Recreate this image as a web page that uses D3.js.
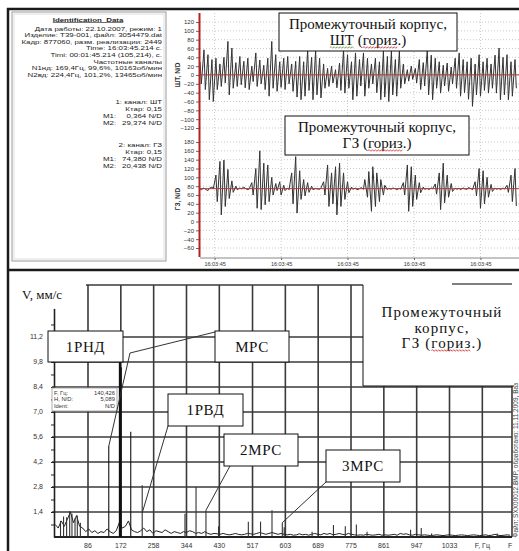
<!DOCTYPE html>
<html>
<head>
<meta charset="utf-8">
<script src="https://cdn.jsdelivr.net/npm/d3@7"></script>
<style>
  body { margin: 0; background: #fff; }
  svg { display: block; }
</style>
</head>
<body>
<div id="chart"></div>
<script>
// ---- data ----
const infoTitle = "Identification_Data";
const infoLines = [
  "Дата работы: 22.10.2007, режим: 1",
  "Изделие: Т39-001, файл: 3054479.dat",
  "Кадр: 877060, разм. реализации: 2449",
  "Time: 16:03:45.214 с.",
  "Timi: 00:01:45.214 (105,214), с.",
  "Частотные каналы",
  "N1нд: 169,4Гц, 99,6%, 10163об/мин",
  "N2вд: 224,4Гц, 101,2%, 13465об/мин"
];
const channelTitles = ["1: канал: ШТ", "2: канал: ГЗ"];
const channelKtar = ["0,15", "0,15"];
const channelM1 = ["0,364", "74,380"];
const channelM2 = ["29,374", "20,438"];

// time signal, one value every 1.5 ms
const sampleMs = 1.5;
const startTime = new Date(2007, 9, 22, 16, 3, 45, 39);
const timeTickMs = [50, 100, 150, 200, 250];

const shtValues = [
  30,-20, 57,-33, 46,-56, 35,-60, 38,-33, 25,-26, 40,-18, 76,-45, 61,-30, 28,-26,
  42,-22, 31,-29, 38,-33, 20,-15, 50,-26, 34,-20, 22,-33, 38,-48, 76,-30, 46,-37,
  30,-28, 38,-33, 42,-20, 25,-37, 31,-50, 42,-56, 30,-48, 57,-35, 40,-56, 57,-45,
  38,-52, 25,-30, 15,-26, 20,-18, 12,-29, 27,-35, 57,-41, 46,-30, 30,-56, 50,-48,
  35,-25, 50,-48, 38,-30, 25,-20, 38,-40, 30,-56, 54,-50, 42,-60, 54,-45, 35,-48,
  54,-30, 25,-20, 12,-14, 20,-10, 15,-18, 35,-33, 28,-25, 57,-45, 45,-56, 38,-30,
  30,-41, 22,-25, 27,-37, 18,-20, 38,-30, 50,-48, 35,-40, 30,-55, 38,-71, 25,-45,
  46,-48, 30,-35, 38,-41, 25,-30, 45,-41, 61,-56, 40,-45, 46,-56, 30,-48, 35,-30
];
const gzValues = [
  74, 72, 76, 73, 70, 75, 78, 74, 105, 45, 136, 15, 139, 34, 118, 52, 92, 66, 80, 72,
  76, 74, 78, 75, 72, 74, 88, 60, 120, 30, 160, 27, 132, 38, 128, 45, 100, 60, 86, 70,
  90, 60, 82, 70, 76, 72, 110, 40, 147, 19, 115, 50, 95, 58, 88, 66, 80, 72, 75, 74,
  73, 76, 90, 60, 128, 34, 110, 40, 124, 15, 132, 34, 110, 50, 90, 65, 78, 73, 76, 72,
  74, 77, 73, 95, 55, 113, 23, 124, 34, 110, 45, 95, 60, 82, 72, 75, 73, 76, 74, 72,
  75, 73, 88, 60, 128, 23, 124, 34, 105, 50, 88, 65, 78, 73, 75, 72, 76, 74, 85, 62,
  110, 27, 132, 42, 105, 55, 86, 68, 76, 73, 75, 72, 76, 74, 73, 77, 74, 72, 90, 58,
  120, 30, 115, 40, 100, 55, 84, 68, 76, 73, 75, 72, 76, 73, 82, 66, 105, 45, 120, 35
];
const shtTicks = [120, 100, 80, 60, 40, 20, 0, -20, -40, -60, -80, -100, -120];
const gzTicks = [180, 160, 140, 120, 100, 80, 60, 40, 20, 0, -20, -40, -60];
const shtMean = 0.364;
const gzMean = 74.38;

// spectrum
const floorStepHz = 8;
const spectrumFloor = [
  0.7, 0.5, 0.9, 0.6, 1.0, 1.4, 0.8, 1.2, 0.6, 0.5,
  0.3, 0.45, 0.25, 0.35, 0.2, 0.3, 0.25, 0.45, 0.3, 0.2,
  0.35, 0.8, 0.5, 0.6, 0.9, 0.4, 0.3, 0.25, 0.35, 0.5,
  0.3, 0.4, 0.2, 0.35, 0.3, 0.25, 0.4, 0.3, 0.2, 0.3,
  0.25, 0.2, 0.3, 0.25, 0.35, 0.3, 0.2, 0.25, 0.2, 0.3,
  0.2, 0.15, 0.2, 0.18, 0.15, 0.2, 0.15, 0.12, 0.15, 0.2,
  0.15, 0.12, 0.15, 0.2, 0.18, 0.15, 0.2, 0.25, 0.2, 0.15,
  0.2, 0.25, 0.2, 0.15, 0.2, 0.15, 0.12, 0.15, 0.1, 0.12,
  0.18, 0.12, 0.15, 0.1, 0.15, 0.2, 0.15, 0.12, 0.2, 0.15,
  0.2, 0.12, 0.15, 0.2, 0.15, 0.12, 0.2, 0.15, 0.12, 0.1,
  0.12, 0.1, 0.15, 0.12, 0.1, 0.12, 0.15, 0.1, 0.12, 0.1,
  0.12, 0.15, 0.1, 0.2, 0.15, 0.18, 0.12, 0.1, 0.15, 0.12,
  0.1, 0.12, 0.1, 0.08, 0.1, 0.12, 0.1, 0.08, 0.1, 0.12,
  0.1, 0.08, 0.1, 0.12, 0.1, 0.08, 0.1, 0.12, 0.1, 0.08,
  0.1, 0.12, 0.08, 0.1, 0.15, 0.1, 0.08, 0.1, 0.12, 0.1
];
const peakHz  = [14, 22, 30, 38, 44, 52, 58, 66, 140.4, 169.4, 172, 198, 228, 340, 369, 395, 428, 506, 538, 568, 595, 600, 673, 729, 760, 789, 817, 931, 959, 986, 1158];
const peakAmp = [0.9, 1.15, 1.1, 1.45, 1.3, 1.05, 1.2, 0.8, 5.09, 10.6, 9.5, 5.9, 2.9, 1.3, 2.8, 1.5, 0.6, 0.86, 0.86, 1.5, 0.8, 0.55, 0.3, 0.67, 0.6, 0.7, 0.3, 0.4, 0.5, 0.2, 0.2];
const freqTicks = [86, 172, 258, 344, 430, 517, 603, 689, 775, 861, 947, 1033];
const freqUnitTick = 1119;
const ampTicks = [1.4, 2.8, 4.2, 5.6, 7.0, 8.4, 9.8, 11.2];
const ampMinorTicks = [0.7, 1.4, 2.1, 2.8, 3.5, 4.2, 4.9, 5.6, 6.3, 7.0, 7.7, 8.4, 9.1, 9.8, 10.5, 11.2, 11.9];
const cursorLabels = ["F, Гц:", "H, N/D:", "Ident:"];
const cursorValues = ["140,426", "5,089", "N/D"];

// annotation boxes: label + the spectrum point each leader points to
const notes = [
  { label: "1РНД", box: [48, 331, 75, 31] },
  { label: "МРС",  box: [215, 331, 74, 31], from: [215, 332], elbow: [130, 353], hz: 140.4, amp: 5.09 },
  { label: "1РВД", box: [168, 394, 75, 32], from: [168, 426], hz: 228, amp: 1.35 },
  { label: "2МРС", box: [224, 434, 74, 32], from: [230, 466], hz: 395, amp: 1.5 },
  { label: "3МРС", box: [326, 450, 74, 32], from: [326, 482], hz: 595, amp: 0.8 }
];

const W = 519, H = 551;
const sans = "'Liberation Sans', Arial, sans-serif";
const serif = "'Liberation Serif', 'Times New Roman', serif";

const svg = d3.select("#chart").append("svg")
  .attr("width", W).attr("height", H)
  .style("font-family", sans);

svg.append("rect").attr("width", W).attr("height", H).attr("fill", "#fff");

// wavy spell-check underline under part of a text line
function wavy(textSel, from, to, color) {
  const node = textSel.node();
  const x1 = node.getStartPositionOfChar(from).x;
  const x2 = node.getEndPositionOfChar(to).x;
  const y = node.getStartPositionOfChar(from).y + 2.5;
  let d = "M" + x1 + "," + y;
  let k = 0;
  for (let x = x1 + 1.5; x <= x2; x += 1.5) {
    d += "L" + x + "," + (y + (k++ % 2 ? 0.8 : -0.8));
  }
  svg.append("path").attr("d", d).attr("fill", "none")
    .attr("stroke", color).attr("stroke-width", 0.8);
}

// ===================== top panel =====================
// info box
svg.append("rect").attr("x", 12).attr("y", 12).attr("width", 154).attr("height", 249)
  .attr("fill", "#fff").attr("stroke", "#999").attr("stroke-width", 1);
svg.append("rect").attr("x", 14).attr("y", 14).attr("width", 150).attr("height", 245)
  .attr("fill", "none").attr("stroke", "#ddd").attr("stroke-width", 1);

// the readout font is wide and flat: draw it a bit larger and squeeze it vertically
const info = svg.append("g").attr("font-size", 7.9).attr("fill", "#222");
function infoText(x, y, anchor, t) {
  return info.append("text").attr("transform", `translate(${x},${y}) scale(1,0.74)`)
    .attr("text-anchor", anchor).text(t);
}
infoText(88, 21.5, "middle", infoTitle)
  .attr("font-weight", "bold").attr("text-decoration", "underline");
infoLines.forEach((t, i) => infoText(162, 30.5 + i * 6.65, "end", t));
channelTitles.forEach((t, c) => {
  const y0 = c === 0 ? 103.5 : 146.5;
  infoText(162, y0, "end", t);
  infoText(162, y0 + 7, "end", "Ктар:  " + channelKtar[c]);
  infoText(103, y0 + 14, "start", "M1:");
  infoText(162, y0 + 14, "end", channelM1[c] + " N/D");
  infoText(103, y0 + 21, "start", "M2:");
  infoText(162, y0 + 21, "end", channelM2[c] + " N/D");
});

// scales
const endTime = new Date(+startTime + 240);
const tx = d3.scaleTime().domain([startTime, endTime]).range([200, 519]);
const shtY = d3.scaleLinear().domain([-120, 120]).range([128, 22]);
const gzY = d3.scaleLinear().domain([-60, 180]).range([248, 142]);
const base = new Date(2007, 9, 22, 16, 3, 45, 0);
const timeTicks = timeTickMs.map(ms => new Date(+base + ms));

svg.append("defs").append("clipPath").attr("id", "plotClip")
  .append("rect").attr("x", 200).attr("y", 12).attr("width", 319).attr("height", 246);

// dotted grid
const grid = svg.append("g").attr("stroke", "#bdbdbd").attr("stroke-width", 0.8)
  .attr("stroke-dasharray", "1,2");
grid.selectAll(".gs").data(shtTicks).join("line")
  .attr("x1", 200).attr("x2", 519).attr("y1", d => shtY(d)).attr("y2", d => shtY(d));
grid.selectAll(".gg").data(gzTicks).join("line")
  .attr("x1", 200).attr("x2", 519).attr("y1", d => gzY(d)).attr("y2", d => gzY(d));
grid.selectAll(".gt").data(timeTicks).join("line")
  .attr("x1", d => tx(d)).attr("x2", d => tx(d)).attr("y1", 13).attr("y2", 257);

// waveforms
const wave = svg.append("g").attr("clip-path", "url(#plotClip)");
const timeOf = i => new Date(+startTime + i * sampleMs);
wave.append("path").datum(shtValues)
  .attr("d", d3.line().x((d, i) => tx(timeOf(i))).y(d => shtY(d)))
  .attr("fill", "none").attr("stroke", "#333").attr("stroke-width", 1);
wave.append("path").datum(gzValues)
  .attr("d", d3.line().x((d, i) => tx(timeOf(i))).y(d => gzY(d)))
  .attr("fill", "none").attr("stroke", "#333").attr("stroke-width", 1);

// mean lines
[[shtY, shtMean], [gzY, gzMean]].forEach(([s, m]) => {
  svg.append("line").attr("x1", 200).attr("x2", 519).attr("y1", s(m)).attr("y2", s(m))
    .attr("stroke", "#b03a3a").attr("stroke-width", 1);
});

// axes
function styleAxis(g, size) {
  g.select(".domain").remove();
  g.selectAll("line").attr("stroke", "#666");
  g.selectAll("text").attr("font-size", size).attr("fill", "#333")
    .attr("font-family", sans);
}
svg.append("g").attr("transform", "translate(199,0)")
  .call(d3.axisLeft(shtY).tickValues(shtTicks).tickSize(3).tickPadding(2))
  .call(g => styleAxis(g, 6));
svg.append("g").attr("transform", "translate(199,0)")
  .call(d3.axisLeft(gzY).tickValues(gzTicks).tickSize(3).tickPadding(2))
  .call(g => styleAxis(g, 6));
svg.append("line").attr("x1", 200).attr("x2", 519).attr("y1", 258).attr("y2", 258)
  .attr("stroke", "#888").attr("stroke-width", 1);
svg.append("g").attr("transform", "translate(0,258)")
  .call(d3.axisBottom(tx).tickValues(timeTicks).tickFormat(d3.timeFormat("%H:%M:%S")).tickSize(2).tickPadding(2))
  .call(g => styleAxis(g, 5.5));
svg.append("line").attr("x1", 199.5).attr("x2", 199.5).attr("y1", 13).attr("y2", 257)
  .attr("stroke", "#b22222").attr("stroke-width", 2);

// channel names
[["ШТ, N/D", shtY(0)], ["ГЗ, N/D", 199]].forEach(([t, y]) => {
  svg.append("text").attr("transform", `translate(180,${y}) rotate(-90)`)
    .attr("text-anchor", "middle").attr("font-size", 6.5).attr("font-weight", "bold")
    .attr("fill", "#333").text(t);
});

// title boxes on the signals
function titleBox(x, y, w, h, lines, marks) {
  svg.append("rect").attr("x", x).attr("y", y).attr("width", w).attr("height", h)
    .attr("fill", "#fff").attr("stroke", "#111").attr("stroke-width", 1);
  lines.forEach((t, i) => {
    const txt = svg.append("text").attr("x", x + w / 2).attr("y", y + 16 + i * 16)
      .attr("text-anchor", "middle").attr("font-family", serif).attr("font-size", 15)
      .attr("fill", "#111").text(t);
    (marks[i] || []).forEach(m => wavy(txt, m[0], m[1], m[2]));
  });
}
titleBox(279, 13, 178, 38, ["Промежуточный корпус,", "ШТ (гориз.)"],
  [null, [[0, 1, "#6a9a40"], [4, 8, "#d03030"]]]);
titleBox(285, 116, 184, 39, ["Промежуточный корпус,", "ГЗ (гориз.)"],
  [null, [[4, 8, "#d03030"]]]);

// frame of the window
const frame = svg.append("g").attr("stroke", "#1a1a1a").attr("stroke-width", 2.5);
frame.append("line").attr("x1", 7).attr("x2", W).attr("y1", 9).attr("y2", 9);
frame.append("line").attr("x1", 8).attr("x2", 8).attr("y1", 8).attr("y2", H);
frame.append("line").attr("x1", 7).attr("x2", W).attr("y1", 270).attr("y2", 270);

// ===================== spectrum panel =====================
const fx = d3.scaleLinear().domain([86, 1033]).range([88, 449.5]);
const vy = d3.scaleLinear().domain([0, 12.8]).range([537, 308.4]);

const sgrid = svg.append("g").attr("stroke", "#3a3a3a").attr("stroke-width", 1.6);
sgrid.selectAll(".v").data(freqTicks.concat([freqUnitTick])).join("line")
  .attr("x1", d => fx(d)).attr("x2", d => fx(d)).attr("y1", 285).attr("y2", 537);
sgrid.selectAll(".h").data(ampTicks).join("line")
  .attr("x1", 52).attr("x2", 512).attr("y1", d => vy(d)).attr("y2", d => vy(d));
sgrid.append("line").attr("x1", 86).attr("x2", 512).attr("y1", 285).attr("y2", 285);
sgrid.append("line").attr("x1", 512).attr("x2", 512).attr("y1", 285).attr("y2", 537);
sgrid.append("line").attr("x1", 54).attr("x2", 512).attr("y1", 537).attr("y2", 537)
  .attr("stroke", "#222").attr("stroke-width", 2);

// spectrum trace
svg.append("path").datum(spectrumFloor)
  .attr("d", d3.line().x((d, i) => fx(i * floorStepHz)).y(d => vy(d)))
  .attr("fill", "none").attr("stroke", "#222").attr("stroke-width", 1);
svg.selectAll(".peak").data(peakHz).join("line")
  .attr("x1", d => fx(d)).attr("x2", d => fx(d))
  .attr("y1", vy(0)).attr("y2", (d, i) => vy(peakAmp[i]))
  .attr("stroke", (d, i) => peakAmp[i] > 5 ? "#111" : "#333")
  .attr("stroke-width", (d, i) => peakAmp[i] > 9 ? 2 : 1.1);

// y axis with minor ticks
svg.append("g").attr("transform", "translate(54,0)")
  .call(d3.axisLeft(vy).tickValues(ampMinorTicks).tickSize(3).tickSizeOuter(0).tickFormat(""))
  .call(g => {
    g.select(".domain").attr("stroke", "#222").attr("stroke-width", 1.6);
    g.selectAll("line").attr("stroke", "#222");
  });
svg.selectAll(".ylab").data(ampTicks).join("text")
  .attr("x", 43).attr("y", d => vy(d) + 2.5).attr("text-anchor", "end")
  .attr("font-size", 7).attr("fill", "#333")
  .text(d => d.toFixed(1).replace(".", ","));
svg.selectAll(".xlab").data(freqTicks).join("text")
  .attr("x", d => fx(d)).attr("y", 548).attr("text-anchor", "middle")
  .attr("font-size", 7).attr("fill", "#333").text(d => d);
svg.append("text").attr("x", fx(freqUnitTick)).attr("y", 548).attr("text-anchor", "middle")
  .attr("font-size", 7).attr("fill", "#333").text("F, Гц");
svg.append("text").attr("x", 508).attr("y", 548).attr("font-size", 7).attr("fill", "#333").text("F");
svg.append("text").attr("x", 22).attr("y", 299).attr("font-family", serif)
  .attr("font-size", 13).attr("fill", "#111").text("V, мм/с");

// cursor readout
svg.append("rect").attr("x", 52).attr("y", 388).attr("width", 65).attr("height", 23)
  .attr("fill", "#fff").attr("stroke", "#999").attr("stroke-width", 0.8);
cursorLabels.forEach((t, i) => {
  svg.append("text").attr("x", 54).attr("y", 394.5 + i * 6.5).attr("font-size", 5.8)
    .attr("fill", "#333").text(t);
  svg.append("text").attr("x", 115).attr("y", 394.5 + i * 6.5).attr("font-size", 5.8)
    .attr("text-anchor", "end").attr("fill", "#333").text(cursorValues[i]);
});

// leaders and labels
notes.filter(n => n.from).forEach(n => {
  const pts = [n.from].concat(n.elbow ? [n.elbow] : []).concat([[fx(n.hz), vy(n.amp)]]);
  svg.append("path").attr("d", d3.line()(pts)).attr("fill", "none")
    .attr("stroke", "#333").attr("stroke-width", 1);
});
notes.forEach(n => {
  const [x, y, w, h] = n.box;
  svg.append("rect").attr("x", x).attr("y", y).attr("width", w).attr("height", h)
    .attr("fill", "#fff").attr("stroke", "#111").attr("stroke-width", 1);
  svg.append("text").attr("x", x + w / 2).attr("y", y + h / 2 + 5).attr("text-anchor", "middle")
    .attr("font-family", serif).attr("font-size", 15).attr("letter-spacing", 0.6)
    .attr("fill", "#111").text(n.label);
});

// panel title
svg.append("rect").attr("x", 363).attr("y", 272).attr("width", 151).attr("height", 114)
  .attr("fill", "#fff");
svg.append("path").attr("d", "M363,285V386H514").attr("fill", "none")
  .attr("stroke", "#111").attr("stroke-width", 1);
svg.append("line").attr("x1", 452).attr("x2", 512).attr("y1", 284).attr("y2", 284)
  .attr("stroke", "#555").attr("stroke-width", 1.6);
["Промежуточный", "корпус,", "ГЗ (гориз.)"].forEach((t, i) => {
  const txt = svg.append("text").attr("x", 442).attr("y", 317 + i * 15.5)
    .attr("text-anchor", "middle").attr("font-family", serif).attr("font-size", 15)
    .attr("letter-spacing", 1.1).attr("fill", "#111").text(t);
  if (i === 2) wavy(txt, 4, 8, "#d03030");
});

// file stamp on the right edge
svg.append("text").attr("transform", "translate(518,383) rotate(-90)")
  .attr("text-anchor", "end").attr("font-size", 6.5).attr("fill", "#444")
  .text("Файл: SXX00012.BMP, обработано: 11.11.2009, Ваз");
</script>
</body>
</html>
